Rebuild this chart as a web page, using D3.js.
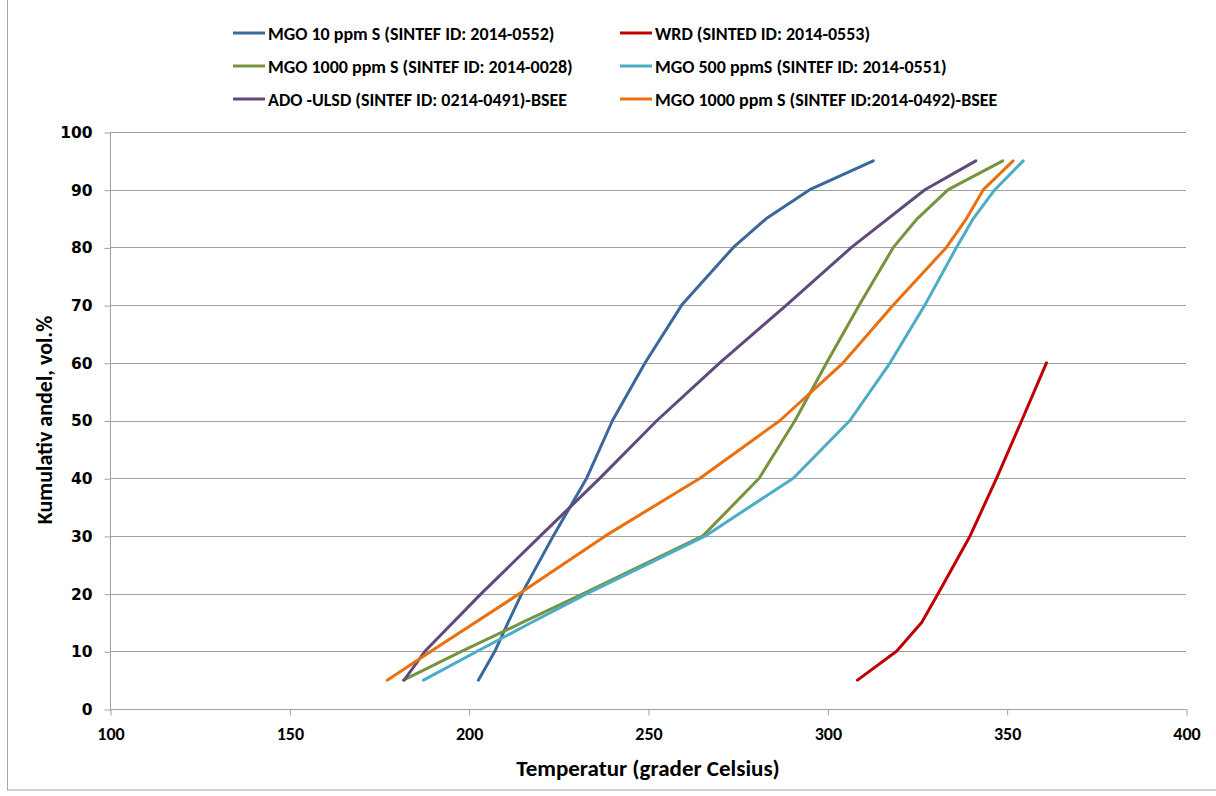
<!DOCTYPE html>
<html>
<head>
<meta charset="utf-8">
<script src="https://cdn.jsdelivr.net/npm/d3@7"></script>
<style>
  html, body { margin: 0; padding: 0; background: #fff; }
  svg { display: block; }
</style>
</head>
<body>
<svg id="chart" width="1216" height="796"></svg>
<script>
// ---- Data ----
const seriesNames = [
  "MGO 10 ppm S (SINTEF ID: 2014-0552)",
  "WRD (SINTED ID: 2014-0553)",
  "MGO 1000 ppm S (SINTEF ID: 2014-0028)",
  "MGO 500 ppmS (SINTEF ID: 2014-0551)",
  "ADO -ULSD (SINTEF ID: 0214-0491)-BSEE",
  "MGO 1000 ppm S (SINTEF ID:2014-0492)-BSEE"
];
const seriesColors = ["#3A679C", "#C00000", "#77933C", "#4BACC6", "#604A7B", "#E8700F"];

const mgo10Vol  = [5, 10, 15, 20, 30, 40, 50, 60, 70, 80, 85, 90, 95];
const mgo10Temp = [202.7, 207.3, 211.0, 214.8, 223.6, 232.9, 240.1, 249.2, 259.4, 273.8, 283.0, 295.1, 312.8];

const wrdVol  = [5, 10, 15, 20, 30, 40, 50, 60];
const wrdTemp = [308.4, 319.3, 326.3, 330.9, 339.8, 347.2, 354.2, 361.1];

const mgo1000Vol  = [5, 10, 15, 20, 30, 40, 50, 60, 70, 80, 85, 90, 95];
const mgo1000Temp = [181.8, 198.0, 215.0, 232.0, 265.3, 281.0, 291.0, 299.8, 308.9, 318.4, 325.1, 333.7, 348.9];

const mgo500Vol  = [5, 10, 15, 20, 30, 40, 50, 60, 70, 80, 85, 90, 95];
const mgo500Temp = [187.4, 202.4, 217.5, 233.0, 266.0, 290.5, 306.3, 317.5, 327.2, 336.0, 340.7, 346.7, 354.6];

const adoVol  = [5, 10, 20, 30, 40, 50, 60, 70, 80, 90, 95];
const adoTemp = [182.0, 187.8, 203.5, 220.0, 236.6, 252.5, 270.0, 288.6, 306.7, 327.2, 341.4];

const mgoBseeVol  = [5, 10, 20, 30, 40, 50, 60, 70, 80, 85, 90, 95];
const mgoBseeTemp = [177.3, 189.5, 214.2, 238.1, 264.5, 286.8, 304.4, 318.4, 333.2, 338.8, 343.5, 351.8];

const xTicks = [100, 150, 200, 250, 300, 350, 400];
const yTicks = [0, 10, 20, 30, 40, 50, 60, 70, 80, 90, 100];

const xTitle = "Temperatur (grader Celsius)";
const yTitle = "Kumulativ andel, vol.%";

// ---- Build ----
const series = [
  {name: seriesNames[0], color: seriesColors[0], t: mgo10Temp, v: mgo10Vol},
  {name: seriesNames[1], color: seriesColors[1], t: wrdTemp, v: wrdVol},
  {name: seriesNames[2], color: seriesColors[2], t: mgo1000Temp, v: mgo1000Vol},
  {name: seriesNames[3], color: seriesColors[3], t: mgo500Temp, v: mgo500Vol},
  {name: seriesNames[4], color: seriesColors[4], t: adoTemp, v: adoVol},
  {name: seriesNames[5], color: seriesColors[5], t: mgoBseeTemp, v: mgoBseeVol}
];

const narrow = "Carlito, Lato, 'Open Sans', sans-serif";
const svg = d3.select("#chart");
const L = 110, R = 1186, T = 132, B = 709;

const x = d3.scaleLinear().domain([100, 400]).range([L, R]);
const y = d3.scaleLinear().domain([0, 100]).range([B, T]);

// outer border
svg.append("rect").attr("x", 7.5).attr("y", -2).attr("width", 1212).attr("height", 792)
  .attr("fill", "none").attr("stroke", "#a6a6a6").attr("stroke-width", 1);

// gridlines
svg.append("g").selectAll("line").data(yTicks.filter(d => d > 0)).join("line")
  .attr("x1", L).attr("x2", R)
  .attr("y1", d => Math.round(y(d)) + 0.5).attr("y2", d => Math.round(y(d)) + 0.5)
  .attr("stroke", "#a0a0a0").attr("stroke-width", 1);

// y axis
const yAxis = svg.append("g").attr("transform", `translate(${L + 0.5},0.5)`)
  .call(d3.axisLeft(y).tickValues(yTicks).tickSize(6).tickPadding(12));
yAxis.attr("font-size", null).attr("font-family", null);
yAxis.select(".domain").attr("stroke", "#a0a0a0").attr("d", `M0,${y(0)}V${y(100)}`);
yAxis.selectAll(".tick line").attr("stroke", "#a0a0a0");
yAxis.selectAll(".tick text")
  .style("font-family", "'DejaVu Sans', Verdana, sans-serif")
  .style("font-weight", "bold").style("font-size", "15.5px").attr("fill", "#000");

// x axis
const xAxis = svg.append("g").attr("transform", `translate(0.5,${Math.round(B) + 0.5})`)
  .call(d3.axisBottom(x).tickValues(xTicks).tickSize(6).tickPadding(12));
xAxis.attr("font-size", null).attr("font-family", null);
xAxis.select(".domain").attr("stroke", "#a0a0a0").attr("d", `M${x(100)},0H${x(400)}`);
xAxis.selectAll(".tick line").attr("stroke", "#a0a0a0");
xAxis.selectAll(".tick text")
  .style("font-family", narrow)
  .style("font-weight", "bold").style("font-size", "18px").attr("fill", "#000");

// series lines
const line = d3.line().x(d => x(d[0])).y(d => y(d[1]));
svg.append("g").selectAll("path").data(series).join("path")
  .attr("d", s => line(s.t.map((t, i) => [t, s.v[i]])))
  .attr("fill", "none").attr("stroke", s => s.color)
  .attr("stroke-width", 3).attr("stroke-linejoin", "round").attr("stroke-linecap", "round");

// axis titles
svg.append("text").attr("x", 648).attr("y", 776).attr("text-anchor", "middle")
  .style("font-family", narrow)
  .style("font-weight", "bold").style("font-size", "23px").text(xTitle);
svg.append("text").attr("transform", "translate(52,420) rotate(-90)").attr("text-anchor", "middle")
  .style("font-family", narrow)
  .style("font-weight", "bold").style("font-size", "22px").text(yTitle);

// legend
const legendPos = [
  [233, 33], [620, 33],
  [233, 66], [620, 66],
  [233, 99], [620, 99]
];
const lg = svg.append("g").selectAll("g").data(series).join("g")
  .attr("transform", (s, i) => `translate(${legendPos[i][0]},${legendPos[i][1]})`);
lg.append("line").attr("x1", 0).attr("x2", 32).attr("y1", 0).attr("y2", 0)
  .attr("stroke", s => s.color).attr("stroke-width", 3);
lg.append("text").attr("x", 35).attr("y", 6.5)
  .style("font-family", narrow)
  .style("font-weight", "bold").style("font-size", "18px").text(s => s.name);
</script>
</body>
</html>
